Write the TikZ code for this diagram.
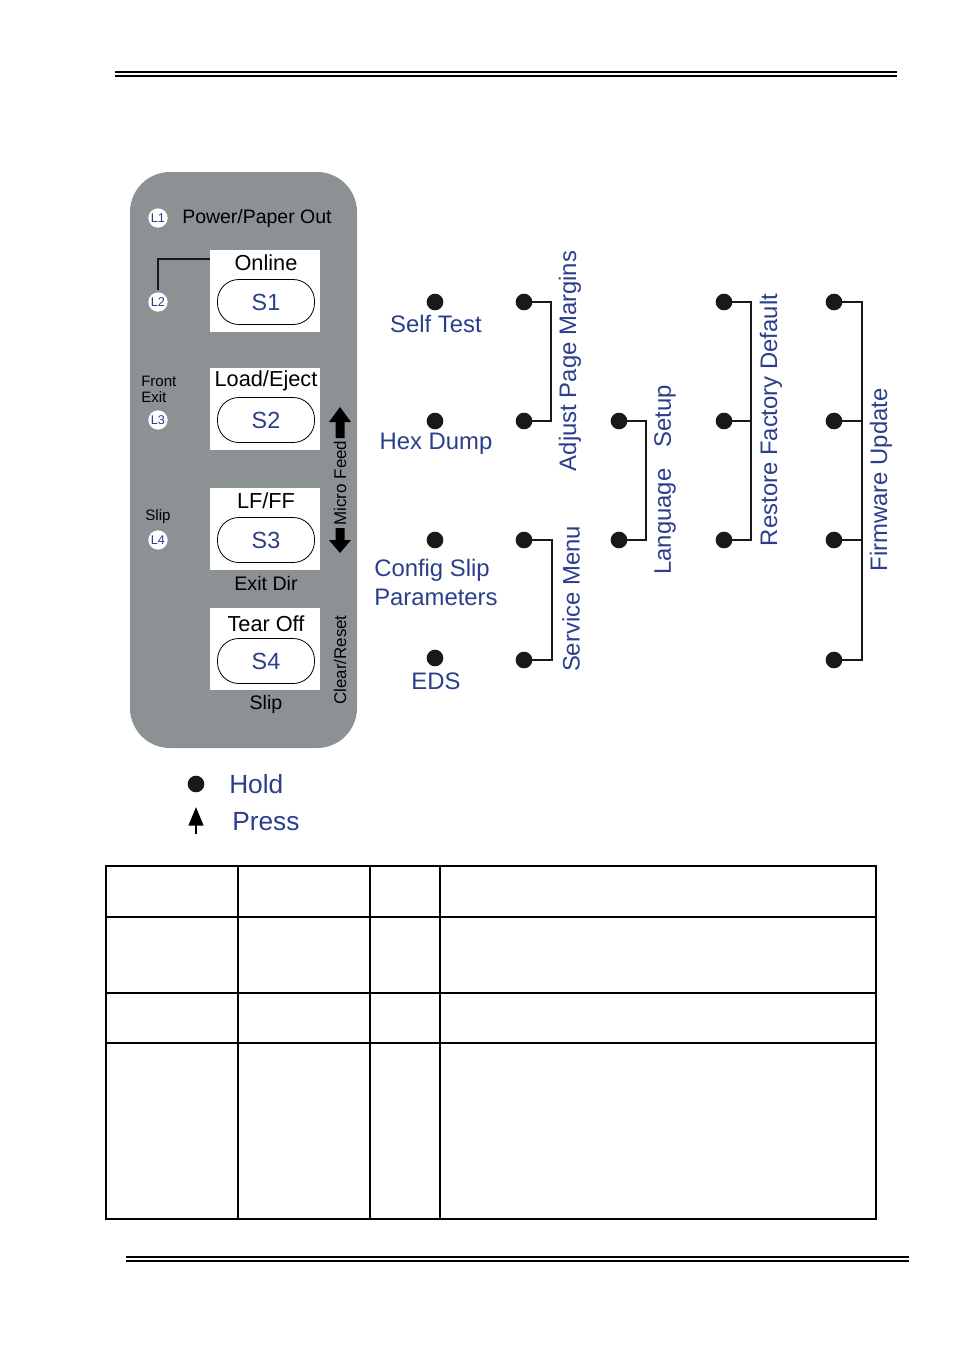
\documentclass[tikz,border=0pt]{standalone}
\usepackage{fontspec}
\setmainfont{Liberation Sans}
\usetikzlibrary{arrows.meta}
\definecolor{menublue}{RGB}{43,62,140}
\definecolor{panelgray}{RGB}{140,145,148}
\begin{document}
\begin{tikzpicture}[x=0.75pt,y=-0.75pt,
  menu/.style={text=menublue,font=\fontsize{17.9pt}{20pt}\selectfont,inner sep=0pt},
  dot/.style={circle,fill=black!90,inner sep=0pt,minimum size=12.5},
  bracket/.style={line width=1.6pt,black!90},
  keybox/.style={fill=white,minimum width=82.5,minimum height=61.5,inner sep=0pt},
  oval/.style={draw=black,line width=0.6pt,fill=white,rounded corners=16,minimum width=72.75,minimum height=33.75,inner sep=0pt,text=menublue,font=\fontsize{17.5pt}{19pt}\selectfont},
  keylabel/.style={font=\fontsize{16.3pt}{18pt}\selectfont,inner sep=0pt},
  led/.style={circle,fill=white,inner sep=0pt,minimum size=14.5,text=menublue,font=\fontsize{9.5pt}{10pt}\selectfont},
  small/.style={font=\fontsize{11.3pt}{12pt}\selectfont,inner sep=0pt},
  side/.style={font=\fontsize{12.7pt}{14pt}\selectfont,inner sep=0pt,rotate=90},
  rule/.style={line width=1.5pt},
  cell/.style={line width=1.2pt}
]
\useasboundingbox (0,0) rectangle (954,1350);
% header / footer rules
\draw[rule] (115,72) -- (897,72);
\draw[rule] (115,75.5) -- (897,75.5);
\draw[rule] (126,1257) -- (909,1257);
\draw[rule] (126,1260.5) -- (909,1260.5);

% panel
\fill[panelgray,rounded corners=30] (130,172) rectangle (357,748);

% LEDs
\node[led] (l1) at (158,218) {L1};
\node[anchor=west,font=\fontsize{14.6pt}{16pt}\selectfont,inner sep=0pt] (pwr) at (182,218) {Power/Paper Out};
\node[led] (l2) at (158,302) {L2};
\node[led] (l3) at (158,420) {L3};
\node[led] (l4) at (158,540) {L4};
\node[small,anchor=west] (front) at (141,381) {Front};
\node[small,anchor=west] (exit) at (141,397) {Exit};
\node[small] (slipl) at (158,517) {Slip};

% keys
\node[keybox] (k1) at (265,291) {};
\node[keylabel] (t1) at (266,263) {Online};
\node[oval] (s1) at (266,302) {S1};
\node[keybox] (k2) at (265,409) {};
\node[keylabel] (t2) at (266,381) {Load/Eject};
\node[oval] (s2) at (266,420) {S2};
\node[keybox] (k3) at (265,529) {};
\node[keylabel] (t3) at (266,501) {LF/FF};
\node[oval] (s3) at (266,540) {S3};
\node[keybox] (k4) at (265,649) {};
\node[keylabel] (t4) at (266,624) {Tear Off};
\node[oval] (s4) at (266,661) {S4};
\node[font=\fontsize{14.7pt}{16pt}\selectfont,inner sep=0pt] (exitdir) at (266,583) {Exit Dir};
\node[font=\fontsize{14.7pt}{16pt}\selectfont,inner sep=0pt] (slipb) at (266,704) {Slip};

% L2 to Online connector
\draw[line width=1.6pt,black!90] (l2.north) ++(0,-2) |- (k1.west |- 0,259);

% micro feed arrows
\fill[black] (340,407) -- (351,422) -- (344.5,422) -- (344.5,438) -- (335.5,438) -- (335.5,422) -- (329,422) -- cycle;
\fill[black] (340,553) -- (351,540) -- (344.5,540) -- (344.5,528) -- (335.5,528) -- (335.5,540) -- (329,540) -- cycle;
\node[side] (micro) at (340,483) {Micro Feed};
\node[side] (clear) at (340,660) {Clear/Reset};

% hold functions
\node[dot] (d1) at (435,302) {};
\node[dot] (d2) at (435,421) {};
\node[dot] (d3) at (435,540) {};
\node[dot] (d4) at (435,658) {};
\node[menu] (selftest) at (436,324) {Self Test};
\node[menu] (hexdump) at (436,444) {Hex Dump};
\node[menu,anchor=west] (config1) at (374,570) {Config Slip};
\node[menu,anchor=west] (config2) at (374,597) {Parameters};
\node[menu] (eds) at (436,681) {EDS};

% adjust page margins
\node[dot] (a1) at (524,302) {};
\node[dot] (a2) at (524,421) {};
\draw[bracket] (a1.center) -- (551,302) |- (a2.center);
\node[menu,rotate=90] (apm) at (570,361) {Adjust Page Margins};

% service menu
\node[dot] (m1) at (524,540) {};
\node[dot] (m2) at (524,660) {};
\draw[bracket] (m1.center) -- (552,540) |- (m2.center);
\node[menu,rotate=90] (svc) at (571,599) {Service Menu};

% language setup
\node[dot] (g1) at (619,421) {};
\node[dot] (g2) at (619,540) {};
\draw[bracket] (g1.center) -- (646,421) |- (g2.center);
\node[menu,rotate=90] (lang) at (665,480) {Language\hspace{0.6em} Setup};

% restore factory default
\node[dot] (r1) at (724,302) {};
\node[dot] (r2) at (724,421) {};
\node[dot] (r3) at (724,540) {};
\draw[bracket] (r1.center) -- (751,302) |- (r3.center);
\draw[bracket] (r2.center) -- (751,421);
\node[menu,rotate=90] (rfd) at (771,420) {Restore Factory Default};

% firmware update
\node[dot] (f1) at (834,302) {};
\node[dot] (f2) at (834,421) {};
\node[dot] (f3) at (834,540) {};
\node[dot] (f4) at (834,660) {};
\draw[bracket] (f1.center) -- (862,302) |- (f4.center);
\draw[bracket] (f2.center) -- (862,421);
\draw[bracket] (f3.center) -- (862,540);
\node[menu,rotate=90] (fw) at (881,480) {Firmware Update};

% legend
\node[dot,minimum size=12.5] (ldot) at (196,784) {};
\node[menu,anchor=west,font=\fontsize{19.7pt}{22pt}\selectfont] (hold) at (229,784) {Hold};
\coordinate (pa) at (196,834);
\coordinate (pb) at (196,807);
\draw[line width=1.8pt,-{Triangle[length=14,width=11]}] (pa) -- (pb);
\node[menu,anchor=west,font=\fontsize{19.7pt}{22pt}\selectfont] (press) at (232,822) {Press};

% table
\draw[cell] (106,866) rectangle (876,1219);
\draw[cell] (238,866) -- (238,1219);
\draw[cell] (370,866) -- (370,1219);
\draw[cell] (440,866) -- (440,1219);
\draw[cell] (106,917) -- (876,917);
\draw[cell] (106,993) -- (876,993);
\draw[cell] (106,1043) -- (876,1043);
\end{tikzpicture}
\end{document}
